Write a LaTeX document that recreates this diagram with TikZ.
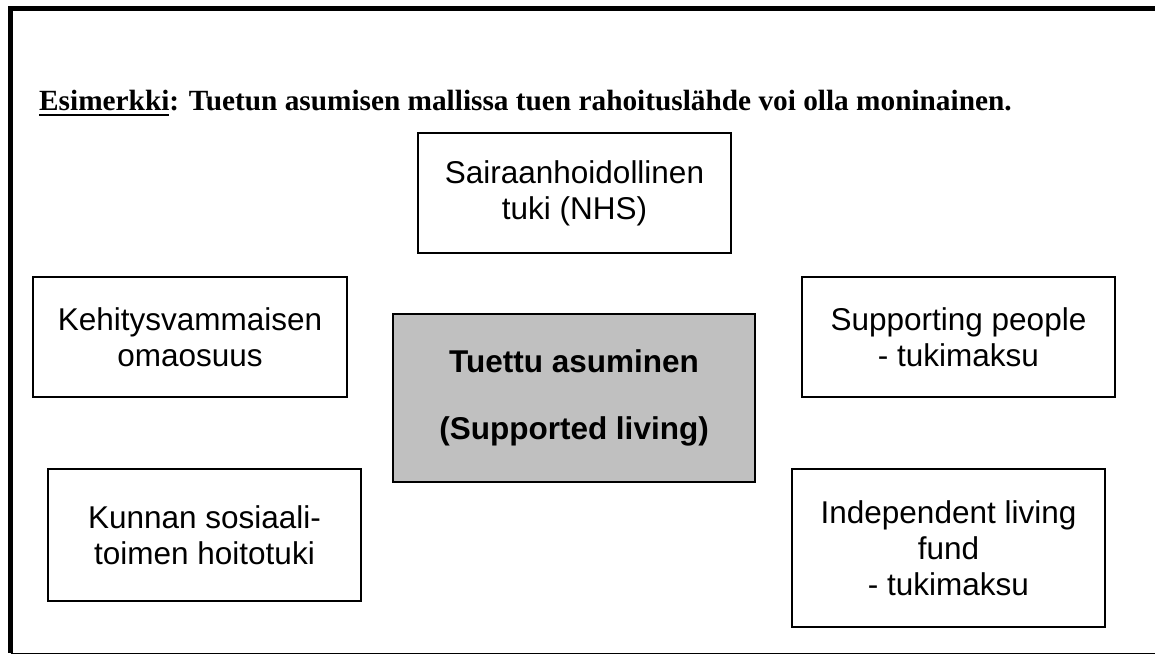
\documentclass[tikz,border=0pt]{standalone}
\usepackage{fontspec}
\setmainfont{Liberation Serif}
\newfontfamily\arialfont{Liberation Sans}
\newcommand\myul[1]{\setbox0\hbox{#1}\rlap{\rule[-5.5pt]{\wd0}{2.2pt}}\box0}
\tikzset{
  srcbox/.style={draw=black, line width=1.5pt, rectangle, inner sep=0pt,
    align=center, font=\arialfont\fontsize{31.5}{36}\selectfont},
  mainbox/.style={draw=black, line width=1.5pt, rectangle, inner sep=0pt,
    fill=boxgray, align=center, font=\arialfont\bfseries\fontsize{31.5}{36}\selectfont},
  frame/.style={black}
}
\definecolor{boxgray}{RGB}{192,192,192}
\begin{document}
\begin{tikzpicture}[x=1pt,y=-1pt]
\useasboundingbox (0,0) rectangle (1155,655);
% outer frame
\coordinate (tl) at (10.5,8.5);
\coordinate (tr) at (1156,8.5);
\coordinate (bl) at (10.5,653.2);
\coordinate (br) at (1156,653.2);
\draw[frame, line width=1.4pt] (bl) -- (br);
\draw[frame, line width=5pt] (tr) -- (tl) -- ([yshift=0.7pt]bl);
% title
\node[anchor=base west, inner sep=0pt, font=\bfseries\fontsize{29.3}{34}\selectfont] (title) at (39,111)
  {\myul{Esimerkki}: Tuetun asumisen mallissa tuen rahoituslähde voi olla moninainen.};
% boxes
\node[srcbox, minimum width=313pt, minimum height=120pt] (nhs) at (574.5,193) {Sairaanhoidollinen\\tuki (NHS)};
\node[srcbox, minimum width=314pt, minimum height=120pt] (oma) at (190,337) {Kehitysvammaisen\\omaosuus};
\node[mainbox, minimum width=362pt, minimum height=168pt] (sl) at (574,398) {Tuettu asuminen\\[31pt](Supported living)};
\node[srcbox, minimum width=313pt, minimum height=120pt] (sp) at (958.5,337) {Supporting people\\- tukimaksu};
\node[srcbox, minimum width=313pt, minimum height=132pt] (kunta) at (204.5,535) {Kunnan sosiaali-\\toimen hoitotuki};
\node[srcbox, minimum width=313pt, minimum height=158pt] (ilf) at (948.5,548) {Independent living\\fund\\- tukimaksu};
\end{tikzpicture}
\end{document}
